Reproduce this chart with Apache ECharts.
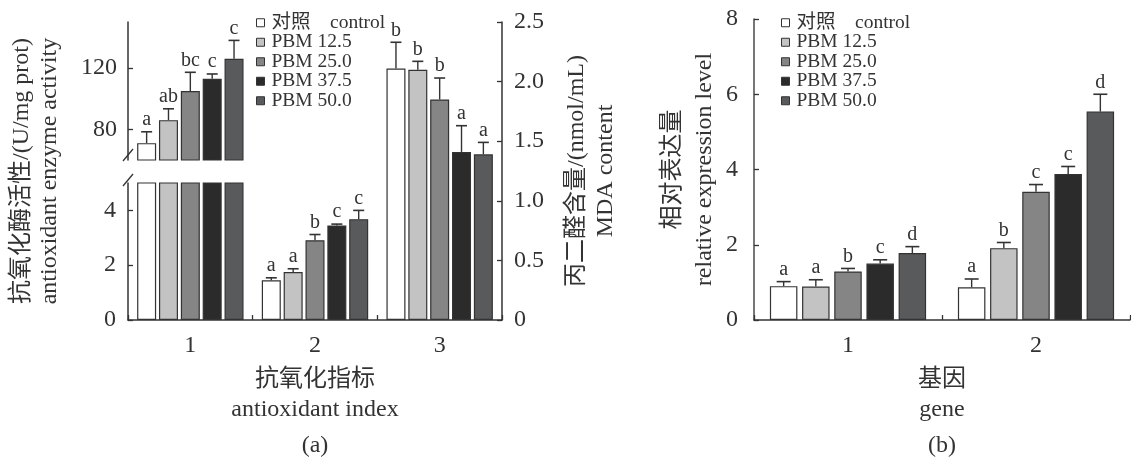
<!DOCTYPE html>
<html><head><meta charset="utf-8">
<script src="https://cdn.jsdelivr.net/npm/echarts@6/dist/echarts.min.js"></script>
<style>html,body{margin:0;padding:0;background:#fff}#c{width:1131px;height:460px}</style>
</head><body><div id="c"></div>
<script>
// ---------------- data ----------------
const treatments = ['对照    control', 'PBM 12.5', 'PBM 25.0', 'PBM 37.5', 'PBM 50.0'];
const aCategories = ['1', '2', '3'];
const bCategories = ['1', '2'];
const aUpperTicks = [80, 120];
const aLowerTicks = [0, 2, 4];
// (a) index 1: antioxidant enzyme activity (U/mg prot), upper broken segment
const aIdx1Mean = [71, 86, 105, 113, 126];
const aIdx1Err = [7.4, 7.4, 12.2, 3.1, 12];
const aIdx1Sig = ['a', 'ab', 'bc', 'c', 'c'];
// (a) index 2: antioxidant enzyme activity, lower segment
const aIdx2Mean = [1.45, 1.75, 2.91, 3.45, 3.68];
const aIdx2Err = [0.09, 0.12, 0.21, 0.05, 0.32];
const aIdx2Sig = ['a', 'a', 'b', 'c', 'c'];
// (a) index 3: MDA content (nmol/mL), right axis
const aMdaMean = [2.11, 2.10, 1.85, 1.41, 1.39];
const aMdaErr = [0.22, 0.07, 0.18, 0.22, 0.10];
const aMdaSig = ['b', 'b', 'b', 'a', 'a'];
// (b) relative expression level
const bGene1Mean = [0.90, 0.89, 1.29, 1.50, 1.78];
const bGene1Err = [0.12, 0.18, 0.08, 0.10, 0.17];
const bGene1Sig = ['a', 'a', 'b', 'c', 'd'];
const bGene2Mean = [0.87, 1.91, 3.41, 3.88, 5.54];
const bGene2Err = [0.22, 0.15, 0.19, 0.20, 0.46];
const bGene2Sig = ['a', 'b', 'c', 'c', 'd'];

// ---------------- styles ----------------
const FONT = "'Liberation Serif','Noto Sans CJK SC',serif";
const colors = ['#ffffff', '#c3c3c3', '#858585', '#2b2b2b', '#585a5c'];
const ink = '#333333';
const GA = { left: 128, width: 374, top: 22, height: 298, upH: 138, lowTop: 183 };
const GB = { left: 754, width: 376, top: 19, height: 301 };
const aBar = { w: 19, gap: '15%', cap: 11 };
const bBar = { w: 27.5, gap: '17%', cap: 14 };

const chart = echarts.init(document.getElementById('c'), null, { renderer: 'canvas' });

const lineStyle = { color: ink, width: 1.5 };
const tickStyle = { show: true, inside: true, length: 5, lineStyle: { color: ink, width: 1.3 } };
const labelStyle = { fontSize: 24, color: ink, fontFamily: FONT };
const nameStyle = { fontSize: 24, color: ink, fontFamily: FONT };

function catAxis(gi, cats, visible, name) {
  const ax = { type: 'category', gridIndex: gi, data: cats, show: visible };
  if (visible) {
    Object.assign(ax, {
      axisLine: { lineStyle }, axisTick: tickStyle,
      axisLabel: Object.assign({ margin: 14 }, labelStyle),
      name, nameLocation: 'middle', nameGap: 45,
      nameTextStyle: Object.assign({ lineHeight: 30 }, nameStyle)
    });
  }
  return ax;
}

const yAxes = [
  { // 0: MDA right axis on full (a) grid
    type: 'value', gridIndex: 0, position: 'right', min: 0, max: 2.5, interval: 0.5,
    axisLine: { show: true, lineStyle }, axisTick: tickStyle, splitLine: { show: false },
    axisLabel: Object.assign({ margin: 12, formatter: v => v === 0 ? '0' : v.toFixed(1) }, labelStyle),
    name: '丙二醛含量/(nmol/mL)\nMDA content', nameLocation: 'middle', nameGap: 60,
    nameTextStyle: Object.assign({ lineHeight: 29 }, nameStyle)
  },
  { // 1: name-only left axis for (a)
    type: 'value', gridIndex: 0, position: 'left', min: 0, max: 1,
    axisLine: { show: false }, axisTick: { show: false }, axisLabel: { show: false }, splitLine: { show: false },
    name: '抗氧化酶活性/(U/mg prot)\nantioxidant enzyme activity', nameLocation: 'middle', nameGap: 64,
    nameTextStyle: Object.assign({ lineHeight: 28 }, nameStyle)
  },
  { // 2: upper broken segment
    type: 'value', gridIndex: 1, position: 'left', min: 60, max: 150,
    axisLine: { show: true, lineStyle }, splitLine: { show: false },
    axisTick: Object.assign({ customValues: aUpperTicks }, tickStyle),
    axisLabel: Object.assign({ margin: 11, customValues: aUpperTicks }, labelStyle)
  },
  { // 3: lower segment
    type: 'value', gridIndex: 2, position: 'left', min: 0, max: 5,
    axisLine: { show: true, lineStyle }, splitLine: { show: false },
    axisTick: Object.assign({ customValues: aLowerTicks }, tickStyle),
    axisLabel: Object.assign({ margin: 12, customValues: aLowerTicks }, labelStyle)
  },
  { // 4: (b)
    type: 'value', gridIndex: 3, position: 'left', min: 0, max: 8, interval: 2,
    axisLine: { show: true, lineStyle: { color: '#4a4a4a', width: 1.5 } }, axisTick: tickStyle, splitLine: { show: false },
    axisLabel: Object.assign({ margin: 16 }, labelStyle),
    name: '相对表达量\nrelative expression level', nameLocation: 'middle', nameGap: 33,
    nameTextStyle: Object.assign({ lineHeight: 32 }, nameStyle)
  }
];

const series = [];
function barS(i, xi, yi, data, cfg) {
  return {
    type: 'bar', name: treatments[i], xAxisIndex: xi, yAxisIndex: yi, data,
    barWidth: cfg.w, barGap: cfg.gap, clip: true, animation: false,
    itemStyle: { color: colors[i], borderColor: ink, borderWidth: 1.2 }
  };
}
for (let i = 0; i < treatments.length; i++) {
  series.push(barS(i, 0, 0, [null, null, aMdaMean[i]], aBar));
  series.push(barS(i, 1, 2, [aIdx1Mean[i], null, null], aBar));
  series.push(barS(i, 2, 3, [aIdx1Mean[i], aIdx2Mean[i], null], aBar));
  series.push(barS(i, 3, 4, [bGene1Mean[i], bGene2Mean[i]], bBar));
}

function errSeries(xi, yi, groups, cfg) {
  const items = [], sigs = [];
  groups.forEach(g => {
    g.mean.forEach((m, ti) => { items.push([g.cat, ti, m, g.err[ti]]); sigs.push(g.sig[ti]); });
  });
  return {
    type: 'custom', xAxisIndex: xi, yAxisIndex: yi, silent: true, z: 5, animation: false,
    encode: { x: 0, y: 2 }, data: items,
    renderItem(params, api) {
      const cat = api.value(0), ti = api.value(1), mean = api.value(2), err = api.value(3);
      let off;
      const lay = api.barLayout ? api.barLayout({ count: treatments.length, barWidth: cfg.w, barGap: cfg.gap }) : null;
      if (lay && lay[ti]) off = lay[ti].offsetCenter;
      else off = (ti - (treatments.length - 1) / 2) * cfg.w * (1 + parseFloat(cfg.gap) / 100);
      const p0 = api.coord([cat, mean]);
      const p1 = api.coord([cat, mean + err]);
      const x = p0[0] + off;
      return {
        type: 'group', children: [
          { type: 'line', shape: { x1: x, y1: p0[1], x2: x, y2: p1[1] }, style: { stroke: ink, lineWidth: 1.4 } },
          { type: 'line', shape: { x1: x - cfg.cap / 2, y1: p1[1], x2: x + cfg.cap / 2, y2: p1[1] }, style: { stroke: ink, lineWidth: 1.6 } },
          { type: 'text', style: { text: sigs[params.dataIndex], x, y: p1[1] - 2, align: 'center', verticalAlign: 'bottom', fontSize: 20, fontFamily: FONT, fill: ink } }
        ]
      };
    }
  };
}
series.push(errSeries(0, 0, [{ cat: 2, mean: aMdaMean, err: aMdaErr, sig: aMdaSig }], aBar));
series.push(errSeries(1, 2, [{ cat: 0, mean: aIdx1Mean, err: aIdx1Err, sig: aIdx1Sig }], aBar));
series.push(errSeries(2, 3, [{ cat: 1, mean: aIdx2Mean, err: aIdx2Err, sig: aIdx2Sig }], aBar));
series.push(errSeries(3, 4, [
  { cat: 0, mean: bGene1Mean, err: bGene1Err, sig: bGene1Sig },
  { cat: 1, mean: bGene2Mean, err: bGene2Err, sig: bGene2Sig }
], bBar));

function legend(left) {
  return {
    left, top: 8, orient: 'vertical', data: treatments, selectedMode: false,
    icon: 'path://M0,0H1V1H0Z', symbolKeepAspect: true,
    itemWidth: 12, itemHeight: 8, itemGap: 0,
    itemStyle: { borderColor: ink, borderWidth: 1 },
    textStyle: { fontSize: 19.5, lineHeight: 18.3, color: ink, fontFamily: FONT }
  };
}

// break marks on the left axis of (a)
const bx = GA.left, by1 = GA.top + GA.upH - 5, by2 = GA.lowTop - 3;
const slash = y => ({ type: 'line', shape: { x1: bx - 5, y1: y + 6, x2: bx + 5, y2: y - 6 }, style: { stroke: ink, lineWidth: 1.3 } });

chart.setOption({
  animation: false,
  backgroundColor: '#fff',
  grid: [
    { left: GA.left, top: GA.top, width: GA.width, height: GA.height, outerBoundsMode: 'none' },
    { left: GA.left, top: GA.top, width: GA.width, height: GA.upH, outerBoundsMode: 'none' },
    { left: GA.left, top: GA.lowTop, width: GA.width, height: GA.top + GA.height - GA.lowTop, outerBoundsMode: 'none' },
    { left: GB.left, top: GB.top, width: GB.width, height: GB.height, outerBoundsMode: 'none' }
  ],
  xAxis: [
    catAxis(0, aCategories, true, '抗氧化指标\nantioxidant index'),
    catAxis(1, aCategories, false),
    catAxis(2, aCategories, false),
    catAxis(3, bCategories, true, '基因\ngene')
  ],
  yAxis: yAxes,
  legend: [legend(251), legend(776)],
  series,
  graphic: [
    slash(by1), slash(by2),
    { type: 'text', x: GA.left + GA.width / 2, y: 446, style: { text: '(a)', align: 'center', verticalAlign: 'middle', fontSize: 24, fontFamily: FONT, fill: ink } },
    { type: 'text', x: GB.left + GB.width / 2, y: 446, style: { text: '(b)', align: 'center', verticalAlign: 'middle', fontSize: 24, fontFamily: FONT, fill: ink } }
  ]
});
</script></body></html>
